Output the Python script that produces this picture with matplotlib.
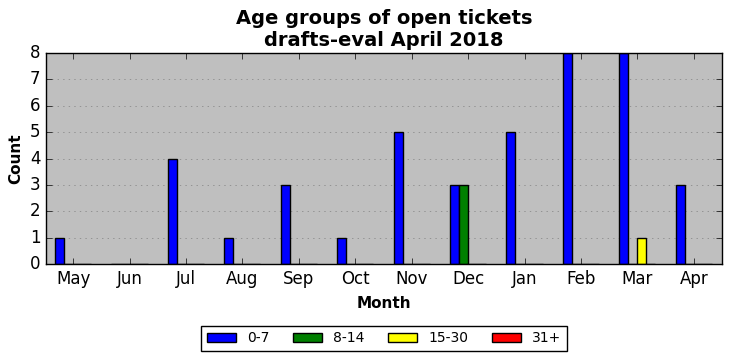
import numpy as np
import matplotlib
matplotlib.use("Agg")
import matplotlib.pyplot as plt

plt.style.use("classic")

months = ["May", "Jun", "Jul", "Aug", "Sep", "Oct", "Nov", "Dec", "Jan", "Feb", "Mar", "Apr"]
age_labels = ["0-7", "8-14", "15-30", "31+"]
age_colors = ["blue", "green", "yellow", "red"]

# open tickets per month and age group
count_0_7 = [1, 0, 4, 1, 3, 1, 5, 3, 5, 8, 8, 3]
count_8_14 = [0, 0, 0, 0, 0, 0, 0, 3, 0, 0, 0, 0]
count_15_30 = [0, 0, 0, 0, 0, 0, 0, 0, 0, 0, 1, 0]
count_31 = [0, 0, 0, 0, 0, 0, 0, 0, 0, 0, 0, 0]
series = [count_0_7, count_8_14, count_15_30, count_31]

fig = plt.figure(figsize=(7.32, 3.61), dpi=100)
ax = fig.add_axes([46 / 732, 1 - 264 / 361, 676 / 732, 211 / 361])
ax.set_facecolor("#bfbfbf")

x = np.arange(len(months))
w = 0.16
for i, (vals, lab, col) in enumerate(zip(series, age_labels, age_colors)):
    ax.bar(x + (i - 2) * w, vals, w, align="edge", color=col,
           edgecolor="black", label=lab)

ax.set_xticks(x)
ax.set_xticklabels(months)
ax.set_xlim(-0.48, 11.5)
ax.set_ylim(0, 8)
ax.yaxis.grid(True, linestyle=":", color="#808080")
ax.set_axisbelow(True)
ax.set_xlabel("Month", fontweight="bold", fontsize=11, labelpad=6)
ax.set_ylabel("Count", fontweight="bold", fontsize=11)
ax.set_title("Age groups of open tickets\ndrafts-eval April 2018",
             fontweight="bold", fontsize=14)
ax.tick_params(labelsize=12)

ax.legend(loc="upper center", bbox_to_anchor=(0.5, -0.26), ncol=4,
          fontsize=10, frameon=True, handlelength=2.1, columnspacing=1.7)

fig.savefig("out.png", dpi=100, facecolor="white")
